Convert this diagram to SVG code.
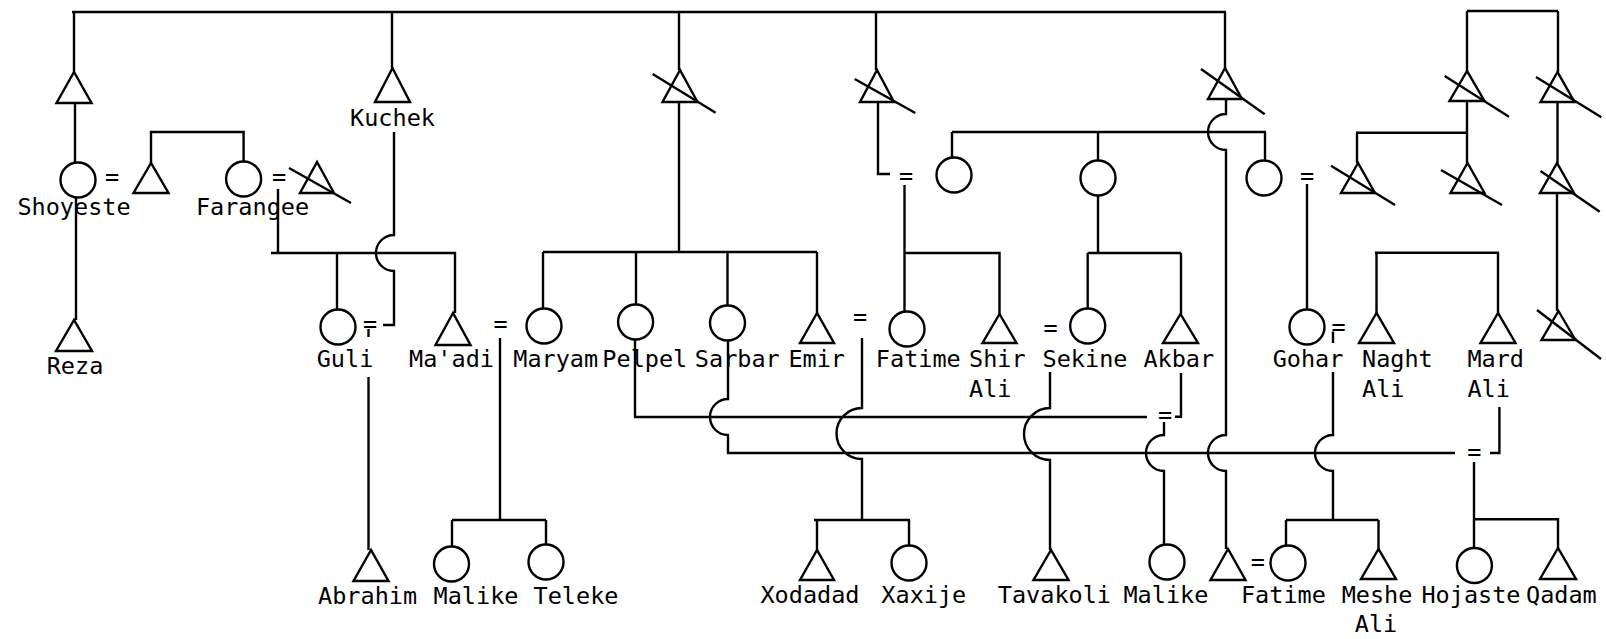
<svg xmlns="http://www.w3.org/2000/svg" width="1606" height="639" viewBox="0 0 1606 639">
<style>
.l{fill:none;stroke:#000;stroke-width:2.4}
.n{fill:#fff;stroke:#000;stroke-width:2.4}
.x{fill:none;stroke:#000;stroke-width:2.4}
text{font-family:"DejaVu Sans Mono","Liberation Mono",monospace;font-size:23.5px;fill:#000}
.m{text-anchor:middle}
</style>
<rect width="1606" height="639" fill="#fff"/>
<g id="connectors" class="l">
<path d="M72 12 H1226"/>
<path d="M74 12 V72"/>
<path d="M392 12 V68"/>
<path d="M679 12 V70"/>
<path d="M876 12 V70"/>
<path d="M1225 12 V68"/>
<path d="M75 103 V162.5"/>
<path d="M76 197 V320"/>
<path d="M151 163 V132 H243.6 V161.5"/>
<path d="M278 189 V253"/>
<path d="M271 253 H455 V313"/>
<path d="M337 253 V309.5"/>
<path d="M394 132 V235 A18 18 0 0 0 394 271 V325 H383"/>
<path d="M368.5 329 V337"/>
<path d="M368.5 377 V550"/>
<path d="M500 338 V520"/>
<path d="M452 520 H546"/>
<path d="M452 520 V546.5"/>
<path d="M546 520 V544.5"/>
<path d="M679 102 V252"/>
<path d="M543 252 H817"/>
<path d="M543 252 V308.5"/>
<path d="M636 252 V304.5"/>
<path d="M727.5 252 V305.5"/>
<path d="M817 252 V313"/>
<path d="M878 102 V174 H890"/>
<path d="M904.5 185 V311.5"/>
<path d="M904.5 253 H999.5 V314"/>
<path d="M952 132 H1266"/>
<path d="M952 132 V157.5"/>
<path d="M1098 132 V160.5"/>
<path d="M1265 132 V160.5"/>
<path d="M1098 195.5 V253"/>
<path d="M1087.7 253 H1181"/>
<path d="M1087.7 253 V308.5"/>
<path d="M1181 253 V314"/>
<path d="M1226 99 V114 A18 18 0 0 0 1226 150 V435 A18 18 0 0 0 1226 471 V549"/>
<path d="M1307 184 V309.5"/>
<path d="M1467 11 H1558"/>
<path d="M1467 11 V71"/>
<path d="M1558 11 V72"/>
<path d="M1467 101 V163"/>
<path d="M1356 132.7 H1467"/>
<path d="M1357 132.7 V163"/>
<path d="M1557.5 102 V163"/>
<path d="M1557 193 V311"/>
<path d="M1375 252.7 H1499"/>
<path d="M1376.5 252.7 V313"/>
<path d="M1498 252.7 V313"/>
<path d="M635 339.5 V417 H1147"/>
<path d="M728 340.5 V399 A18 18 0 0 0 728 435 V453 H1455"/>
<path d="M862 338 V408 A25.5 25.5 0 0 0 862 459 V520"/>
<path d="M814 520 H910"/>
<path d="M817 520 V550"/>
<path d="M909 520 V545.5"/>
<path d="M1050 372 V408 A26 26 0 0 0 1050 460 V550"/>
<path d="M1181 373 V416.7 H1175"/>
<path d="M1164 422 V435 A18 18 0 0 0 1164 471 V544.5"/>
<path d="M1333 331.5 V343"/>
<path d="M1333 372 V435 A18 18 0 0 0 1333 471 V520"/>
<path d="M1286 520 H1378.5"/>
<path d="M1286 520 V546"/>
<path d="M1378.5 520 V549"/>
<path d="M1499.4 407 V453 H1490"/>
<path d="M1474 462 V548"/>
<path d="M1474 519.3 H1558 V548"/>
</g>
<g id="marriage-signs">
<text class="m" x="112" y="185">=</text>
<text class="m" x="279" y="185">=</text>
<text class="m" x="370" y="332">=</text>
<text class="m" x="500.7" y="332">=</text>
<text class="m" x="860" y="325">=</text>
<text class="m" x="906" y="184">=</text>
<text class="m" x="1050.7" y="336">=</text>
<text class="m" x="1165" y="423">=</text>
<text class="m" x="1307" y="184">=</text>
<text class="m" x="1338.5" y="335">=</text>
<text class="m" x="1474.3" y="460">=</text>
<text class="m" x="1257.8" y="570">=</text>
</g>
<g id="p-t1"><polygon class="n" points="74,72 56.5,103 91.5,103"/></g>
<g id="p-shoyeste"><circle class="n" cx="78" cy="180" r="17.5"/><text class="m" x="74" y="215">Shoyeste</text></g>
<g id="p-shoyeste-husband"><polygon class="n" points="151,163 133.5,193 168.5,193"/></g>
<g id="p-farangee"><circle class="n" cx="243.6" cy="179" r="17.5"/><text class="m" x="252.5" y="215">Farangee</text></g>
<g id="p-farangee-husband"><polygon class="n" points="317,162 300,193 334,193"/><line class="x" x1="289" y1="168" x2="351" y2="203"/></g>
<g id="p-kuchek"><polygon class="n" points="392.5,68 375,102 410,102"/><text class="m" x="392.5" y="126">Kuchek</text></g>
<g id="p-reza"><polygon class="n" points="74,320 56,351 92,351"/><text class="m" x="75" y="374">Reza</text></g>
<g id="p-guli"><circle class="n" cx="338" cy="327" r="17.5"/><text class="m" x="345" y="367">Guli</text></g>
<g id="p-maadi"><polygon class="n" points="453,313 435.5,345 470.5,345"/><text class="m" x="451.5" y="367">Ma'adi</text></g>
<g id="p-c2"><polygon class="n" points="680,70 662.5,102 697.5,102"/><line class="x" x1="652.6" y1="74" x2="715.6" y2="112.7"/></g>
<g id="p-maryam"><circle class="n" cx="544" cy="326" r="17.5"/><text class="m" x="555.7" y="367">Maryam</text></g>
<g id="p-pelpel"><circle class="n" cx="635.6" cy="322" r="17.5"/><text class="m" x="644.8" y="367">Pelpel</text></g>
<g id="p-sarbar"><circle class="n" cx="727.5" cy="323" r="17.5"/><text class="m" x="737.3" y="367">Sarbar</text></g>
<g id="p-emir"><polygon class="n" points="817,313 800,343 834,343"/><text class="m" x="816.7" y="367">Emir</text></g>
<g id="p-c3"><polygon class="n" points="877,70 860,102 894,102"/><line class="x" x1="854.7" y1="79" x2="915.3" y2="113"/></g>
<g id="p-w1"><circle class="n" cx="954" cy="175" r="17.5"/></g>
<g id="p-fatime1"><circle class="n" cx="907" cy="329" r="17.5"/><text class="m" x="918.3" y="367">Fatime</text></g>
<g id="p-shirali"><polygon class="n" points="999.5,314 982.5,343 1016.5,343"/><text x="969" y="367">Shir</text><text x="969" y="397">Ali</text></g>
<g id="p-w2"><circle class="n" cx="1098" cy="178" r="17.5"/></g>
<g id="p-sekine"><circle class="n" cx="1087.7" cy="326" r="17.5"/><text class="m" x="1085" y="367">Sekine</text></g>
<g id="p-akbar"><polygon class="n" points="1180.5,314 1163,343 1198,343"/><text class="m" x="1178.8" y="367">Akbar</text></g>
<g id="p-c4"><polygon class="n" points="1225,68 1208,99 1242,99"/><line class="x" x1="1201" y1="69" x2="1264.7" y2="114.3"/></g>
<g id="p-w3"><circle class="n" cx="1264" cy="178" r="17.5"/></g>
<g id="p-gohar"><circle class="n" cx="1307" cy="327" r="17.5"/><text class="m" x="1308" y="367">Gohar</text></g>
<g id="p-c5"><polygon class="n" points="1467,71 1449.5,101 1484.5,101"/><line class="x" x1="1444.7" y1="76" x2="1509" y2="116.7"/></g>
<g id="p-c6"><polygon class="n" points="1557.5,72 1540.5,102 1574.5,102"/><line class="x" x1="1536" y1="77" x2="1601.4" y2="117.3"/></g>
<g id="p-c7"><polygon class="n" points="1358,163 1341,193 1375,193"/><line class="x" x1="1331" y1="165.7" x2="1395" y2="205"/></g>
<g id="p-c8"><polygon class="n" points="1467.5,163 1450.5,193 1484.5,193"/><line class="x" x1="1441" y1="170" x2="1502" y2="205"/></g>
<g id="p-c9"><polygon class="n" points="1557,163 1540,193 1574,193"/><line class="x" x1="1540.5" y1="171" x2="1599.7" y2="211.7"/></g>
<g id="p-c10"><polygon class="n" points="1558.5,311 1541.5,340 1575.5,340"/><line class="x" x1="1537" y1="310" x2="1601" y2="359"/></g>
<g id="p-naghtali"><polygon class="n" points="1376.5,313 1359,343 1394,343"/><text x="1362" y="367">Naght</text><text x="1362" y="397">Ali</text></g>
<g id="p-mardali"><polygon class="n" points="1498,313 1480.5,343 1515.5,343"/><text x="1467.4" y="367">Mard</text><text x="1467.4" y="397">Ali</text></g>
<g id="p-abrahim"><polygon class="n" points="371,550 353.5,581 388.5,581"/><text class="m" x="367.6" y="604">Abrahim</text></g>
<g id="p-malike1"><circle class="n" cx="451.5" cy="564" r="17.5"/><text class="m" x="476" y="604">Malike</text></g>
<g id="p-teleke"><circle class="n" cx="546" cy="562" r="17.5"/><text class="m" x="576" y="604">Teleke</text></g>
<g id="p-xodadad"><polygon class="n" points="817,550 800,580 834,580"/><text class="m" x="810" y="603">Xodadad</text></g>
<g id="p-xaxije"><circle class="n" cx="909" cy="563" r="17.5"/><text class="m" x="923.8" y="603">Xaxije</text></g>
<g id="p-tavakoli"><polygon class="n" points="1051,550 1033.5,580 1068.5,580"/><text class="m" x="1054.4" y="603">Tavakoli</text></g>
<g id="p-malike2"><circle class="n" cx="1167" cy="562" r="17.5"/><text class="m" x="1165.9" y="603">Malike</text></g>
<g id="p-son-c4"><polygon class="n" points="1228,549 1210.5,580 1245.5,580"/></g>
<g id="p-fatime2"><circle class="n" cx="1288" cy="563" r="17.5"/><text class="m" x="1283.4" y="603">Fatime</text></g>
<g id="p-meshe"><polygon class="n" points="1378.5,549 1361,579 1396,579"/><text class="m" x="1377" y="603">Meshe</text><text class="m" x="1376" y="632">Ali</text></g>
<g id="p-hojaste"><circle class="n" cx="1474.4" cy="565.5" r="17.5"/><text class="m" x="1471" y="603">Hojaste</text></g>
<g id="p-qadam"><polygon class="n" points="1558,548 1540,579 1576,579"/><text class="m" x="1561.4" y="603">Qadam</text></g>
</svg>
